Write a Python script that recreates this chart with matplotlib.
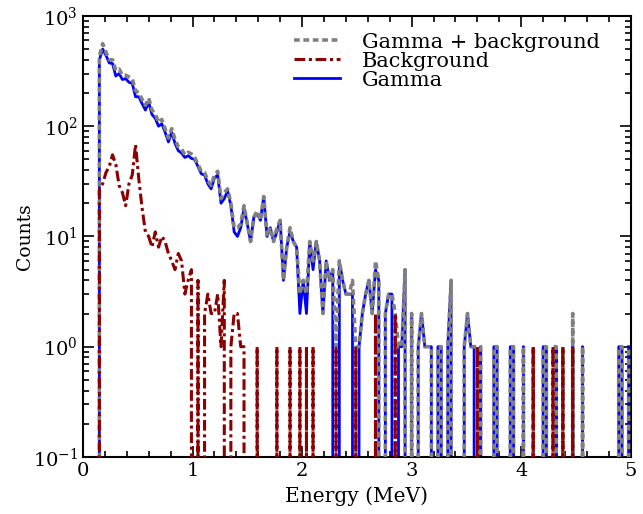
import numpy as np
import matplotlib
matplotlib.use("Agg")
import matplotlib.pyplot as plt
from matplotlib.ticker import LogLocator, MultipleLocator, NullFormatter

plt.rcParams["font.family"] = ["DejaVu Serif"]
plt.rcParams["mathtext.fontset"] = "dejavuserif"

# Spectrum binned in 0.03 MeV channels
bin_width = 0.03
n_bins = 167
energy = np.round(np.arange(n_bins) * bin_width, 3)

total_counts = [
    0, 0, 0, 0, 0, 430, 560, 470, 400, 400,
    320, 330, 290, 290, 280, 270, 210, 200, 175, 155,
    180, 140, 130, 108, 115, 95, 78, 95, 76, 65,
    62, 55, 58, 56, 52, 45, 39, 38, 32, 29,
    36, 39, 22, 25, 27, 20, 12, 12, 13, 19,
    13, 9, 15, 17, 14, 23, 10, 12, 9, 12,
    14, 4, 8, 12, 9, 8, 3, 4, 3, 9,
    6, 9, 6, 2, 6, 4, 5, 1, 6, 4,
    3, 3, 4, 1, 1, 2, 3, 4, 2, 6,
    4, 0, 2, 3, 3, 2, 1, 1, 5, 0,
    2, 0, 1, 2, 1, 1, 1, 0, 1, 1,
    0, 1, 4, 0, 0, 0, 1, 2, 1, 1,
    1, 1, 0, 0, 0, 1, 1, 0, 0, 0,
    1, 1, 0, 0, 1, 0, 0, 1, 0, 0,
    1, 1, 0, 1, 1, 0, 1, 0, 0, 2,
    0, 0, 1, 0, 0, 0, 0, 0, 0, 0,
    0, 0, 0, 1, 1, 0, 1,
]

background_counts = [
    0, 0, 0, 0, 0, 27, 30, 38, 43, 55,
    45, 29, 25, 19, 30, 36, 68, 33, 18, 11,
    10, 8, 11, 8, 10, 9, 7, 6, 5, 7,
    6, 3, 4, 5, 0, 4, 0, 2, 3, 2,
    2, 3, 1, 4, 0, 1, 2, 2, 1, 1,
    0, 0, 0, 1, 0, 0, 0, 0, 0, 1,
    0, 0, 0, 1, 0, 0, 1, 0, 1, 0,
    1, 0, 0, 0, 0, 0, 0, 1, 0, 0,
    0, 0, 0, 1, 0, 0, 0, 0, 0, 2,
    0, 0, 0, 0, 0, 2, 0, 0, 0, 0,
    0, 0, 0, 0, 0, 0, 0, 0, 0, 0,
    0, 0, 0, 0, 0, 0, 0, 0, 0, 0,
    1, 0, 0, 0, 0, 0, 0, 0, 0, 0,
    0, 0, 0, 0, 0, 0, 0, 1, 0, 0,
    0, 0, 0, 1, 0, 0, 1, 0, 0, 1,
    0, 0, 0, 0, 0, 0, 0, 0, 0, 0,
    0, 0, 0, 0, 0, 0, 0,
]

gamma_counts = [
    0, 0, 0, 0, 0, 400, 500, 440, 375, 370,
    285, 300, 265, 270, 250, 245, 185, 185, 160, 140,
    165, 128, 118, 100, 105, 88, 72, 88, 70, 60,
    57, 52, 54, 51, 50, 43, 37, 36, 30, 27,
    34, 36, 20, 22, 26, 19, 11, 10, 12, 18,
    13, 9, 15, 16, 14, 23, 10, 12, 9, 11,
    14, 4, 8, 11, 9, 8, 2, 4, 2, 9,
    5, 9, 6, 2, 6, 4, 5, 0, 6, 4,
    3, 3, 3, 0, 1, 2, 3, 4, 2, 5,
    4, 0, 2, 3, 3, 0, 1, 1, 5, 0,
    2, 0, 1, 2, 1, 1, 1, 0, 1, 1,
    0, 1, 4, 0, 0, 0, 1, 2, 1, 1,
    0, 1, 0, 0, 0, 1, 1, 0, 0, 0,
    1, 1, 0, 0, 1, 0, 0, 0, 0, 0,
    1, 1, 0, 0, 1, 0, 0, 0, 0, 1,
    0, 0, 1, 0, 0, 0, 0, 0, 0, 0,
    0, 0, 0, 1, 1, 0, 1,
]

fig = plt.figure(figsize=(6.43, 5.14), dpi=100)
ax = fig.add_axes([0.129, 0.111, 0.852, 0.858])

h_gamma, = ax.plot(energy, gamma_counts, color="blue", lw=2.0, ls="-",
                   label="Gamma", zorder=2)
h_total, = ax.plot(energy, total_counts, color="grey", lw=2.6,
                   ls=(0, (1.6, 1.0)), label="Gamma + background", zorder=3)
h_bg, = ax.plot(energy, background_counts, color="darkred", lw=2.2,
                ls=(0, (3.5, 1.2, 1.0, 1.2)), label="Background", zorder=4)

ax.set_yscale("log", nonpositive="clip")
ax.set_xlim(0, 5)
ax.set_ylim(0.1, 1000)

ax.xaxis.set_major_locator(MultipleLocator(1))
ax.xaxis.set_minor_locator(MultipleLocator(0.2))
ax.yaxis.set_major_locator(LogLocator(base=10, numticks=10))
ax.yaxis.set_minor_locator(LogLocator(base=10, subs=np.arange(2, 10), numticks=50))
ax.yaxis.set_minor_formatter(NullFormatter())

ax.tick_params(which="both", direction="in", top=True, right=True,
               labelsize=14, width=1.2)
ax.tick_params(which="major", length=8)
ax.tick_params(which="minor", length=4)
for sp in ax.spines.values():
    sp.set_linewidth(1.5)

ax.set_xlabel("Energy (MeV)", fontsize=14.5, labelpad=5)
ax.set_ylabel("Counts", fontsize=13.5)
ax.yaxis.set_label_coords(-0.09, 0.5)

ax.legend(handles=[h_total, h_bg, h_gamma], loc="upper left",
          bbox_to_anchor=(0.385, 0.962), frameon=False, fontsize=15,
          handlelength=2.2, handletextpad=1.05, labelspacing=0.0,
          borderpad=0.0, borderaxespad=0.0)

fig.savefig("out.png", dpi=100)
